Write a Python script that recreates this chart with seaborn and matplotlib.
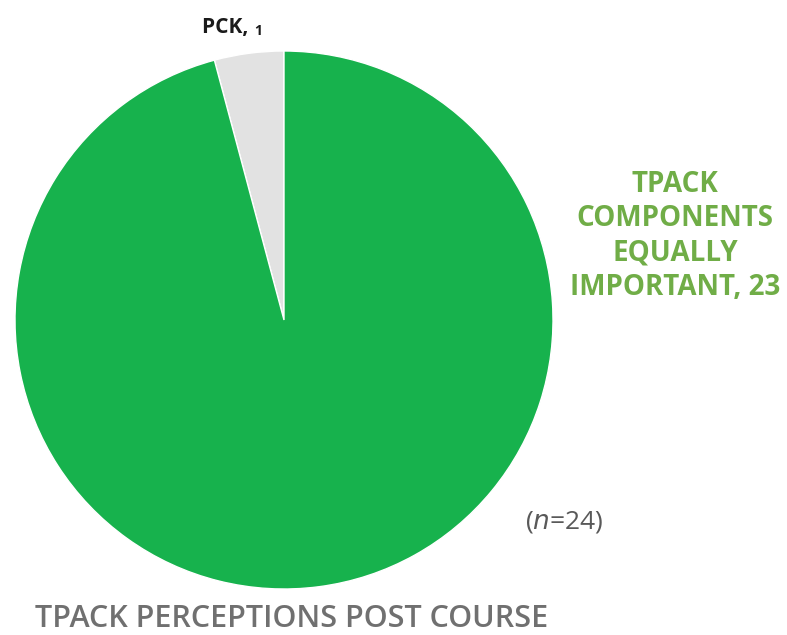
import matplotlib
matplotlib.use("Agg")
from matplotlib import pyplot as plt
import seaborn as sns

# Datos del gráfico
categorias = ['PCK', 'TPACK\nCOMPONENTS\nEQUALLY\nIMPORTANT']
valores = [1, 23]
colores = ['#E2E2E2', '#17B24D']
n_total = 24

sns.set_style("white")
plt.rcParams['font.family'] = ['Open Sans', 'DejaVu Sans']

W, H = 787, 635
fig = plt.figure(figsize=(W / 100, H / 100), dpi=100)

# Ejes del pie en pixeles: centro (284, 320), radio 269
cx, cy, r = 284, 320, 269
ax = fig.add_axes([(cx - r) / W, (H - cy - r) / H, 2 * r / W, 2 * r / H])
ax.pie(valores, colors=colores, startangle=90, counterclock=True,
       wedgeprops=dict(edgecolor='white', linewidth=1), radius=1)
ax.set_xlim(-1, 1)
ax.set_ylim(-1, 1)
ax.set_aspect('equal')
ax.axis('off')

# Etiquetas
fig.text(254 / W, 1 - 28 / H, f"{categorias[0]}, ", fontsize=15, fontweight='bold',
         color='#1a1a1a', ha='right', va='center')
fig.text(254 / W, 1 - 31 / H, f"{valores[0]}", fontsize=10, fontweight='bold',
         color='#1a1a1a', ha='left', va='center')
fig.text(675 / W, 1 - 236 / H, f"{categorias[1]}, {valores[1]}", fontsize=20,
         fontweight='bold', color='#70AD47', ha='center', va='center',
         linespacing=1.25)
fig.text(564 / W, 1 - 522 / H, f"($\\it{{n}}$={n_total})", fontsize=19,
         color='#595959', ha='center', va='center')
fig.text(292 / W, 1 - 619 / H, "TPACK PERCEPTIONS POST COURSE", fontsize=22,
         fontweight='semibold', color='#707070', ha='center', va='center')

fig.savefig('out.png', dpi=100)
